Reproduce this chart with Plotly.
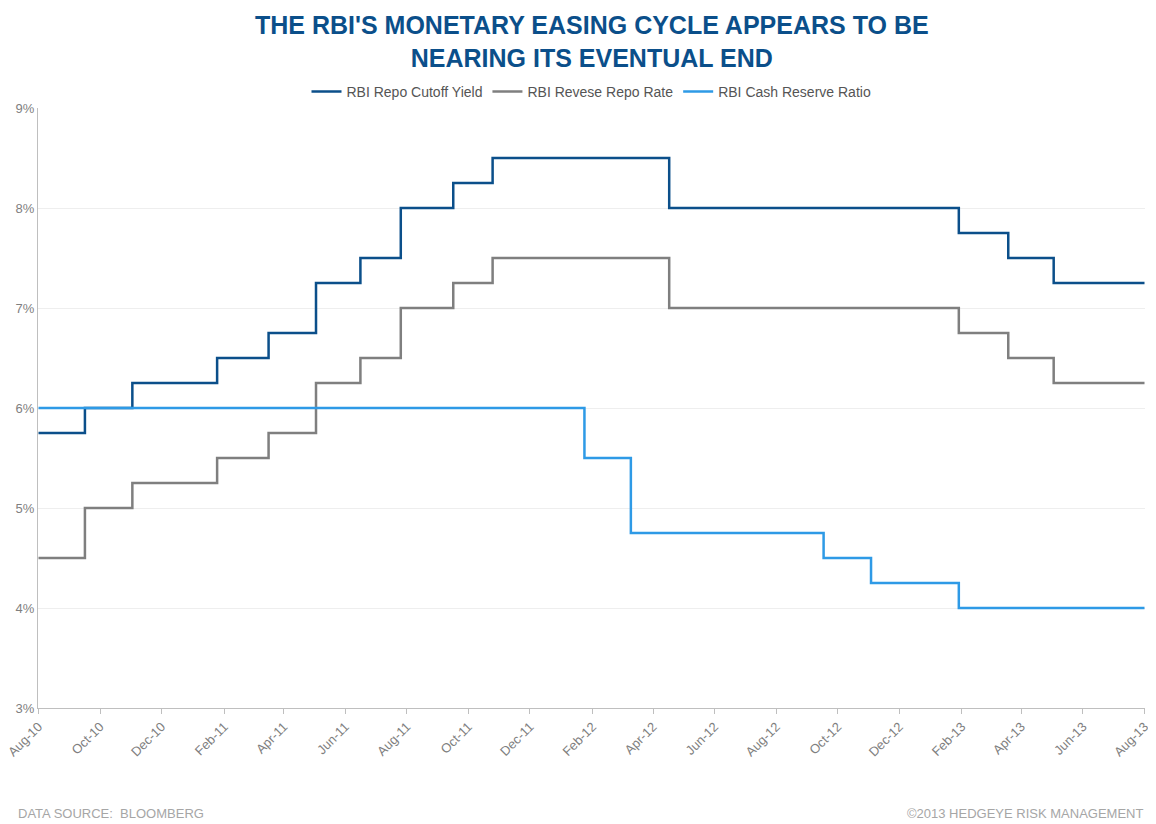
import plotly.graph_objects as go

repo_dates = ["2010-08-01", "2010-09-16", "2010-11-02", "2011-01-25", "2011-03-17", "2011-05-03",
              "2011-06-16", "2011-07-26", "2011-09-16", "2011-10-25", "2012-04-17", "2013-01-29",
              "2013-03-19", "2013-05-03", "2013-08-01"]
repo = [5.75, 6.0, 6.25, 6.5, 6.75, 7.25, 7.5, 8.0, 8.25, 8.5, 8.0, 7.75, 7.5, 7.25, 7.25]
rev_repo = [4.5, 5.0, 5.25, 5.5, 5.75, 6.25, 6.5, 7.0, 7.25, 7.5, 7.0, 6.75, 6.5, 6.25, 6.25]
crr_dates = ["2010-08-01", "2012-01-24", "2012-03-10", "2012-09-17", "2012-11-03", "2013-01-29", "2013-08-01"]
crr = [6.0, 5.5, 4.75, 4.5, 4.25, 4.0, 4.0]

fig = go.Figure()
fig.add_trace(go.Scatter(x=repo_dates, y=repo, name="RBI Repo Cutoff Yield", mode="lines",
                         line=dict(shape="hv", color="#0b4f8a", width=2.5)))
fig.add_trace(go.Scatter(x=repo_dates, y=rev_repo, name="RBI Revese Repo Rate", mode="lines",
                         line=dict(shape="hv", color="#7f7f7f", width=2.5)))
fig.add_trace(go.Scatter(x=crr_dates, y=crr, name="RBI Cash Reserve Ratio", mode="lines",
                         line=dict(shape="hv", color="#2e9ae6", width=2.5)))

# page body has an 8px margin, so the figure is 8px smaller than the window
fig.update_layout(
    width=1148, height=816, plot_bgcolor="white", paper_bgcolor="white",
    margin=dict(l=30, r=11, t=100, b=116, autoexpand=False),
    font=dict(family="Arial, Liberation Sans", color="#7f7f7f", size=13),
    legend=dict(orientation="h", x=0.5, xanchor="center", y=1.027, yanchor="middle",
                font=dict(size=14, color="#555555")),
    showlegend=True,
)
fig.add_annotation(text="<b>THE RBI'S MONETARY EASING CYCLE APPEARS TO BE<br>NEARING ITS EVENTUAL END</b>",
                   xref="paper", yref="paper", x=0.5, y=1.165, yanchor="top", showarrow=False,
                   font=dict(size=25, color="#0b4f8a"))
fig.update_xaxes(range=["2010-07-31 12:00", "2013-08-01 12:00"], tickformat="%b-%y", dtick="M2",
                 tick0="2010-08-01", tickangle=-45, showgrid=False, showline=True, automargin=False,
                 ticklabeloverflow="allow",
                 linecolor="#bfbfbf", ticks="outside", tickcolor="#bfbfbf", ticklen=5,
                 tickfont=dict(size=13))
fig.update_yaxes(range=[3, 9], dtick=1, ticksuffix="%", showgrid=True, gridcolor="#eeeeee",
                 showline=True, linecolor="#bfbfbf", zeroline=False, automargin=False,
                 tickfont=dict(size=13))
fig.add_annotation(text="DATA SOURCE:  BLOOMBERG", xref="paper", yref="paper", x=-0.02, y=-0.175,
                   xanchor="left", yanchor="middle", showarrow=False, font=dict(size=13, color="#a6a6a6"))
fig.add_annotation(text="©2013 HEDGEYE RISK MANAGEMENT", xref="paper", yref="paper", x=1.0, y=-0.175,
                   xanchor="right", yanchor="middle", showarrow=False, font=dict(size=13, color="#a6a6a6"))
fig.write_html("out.html")
